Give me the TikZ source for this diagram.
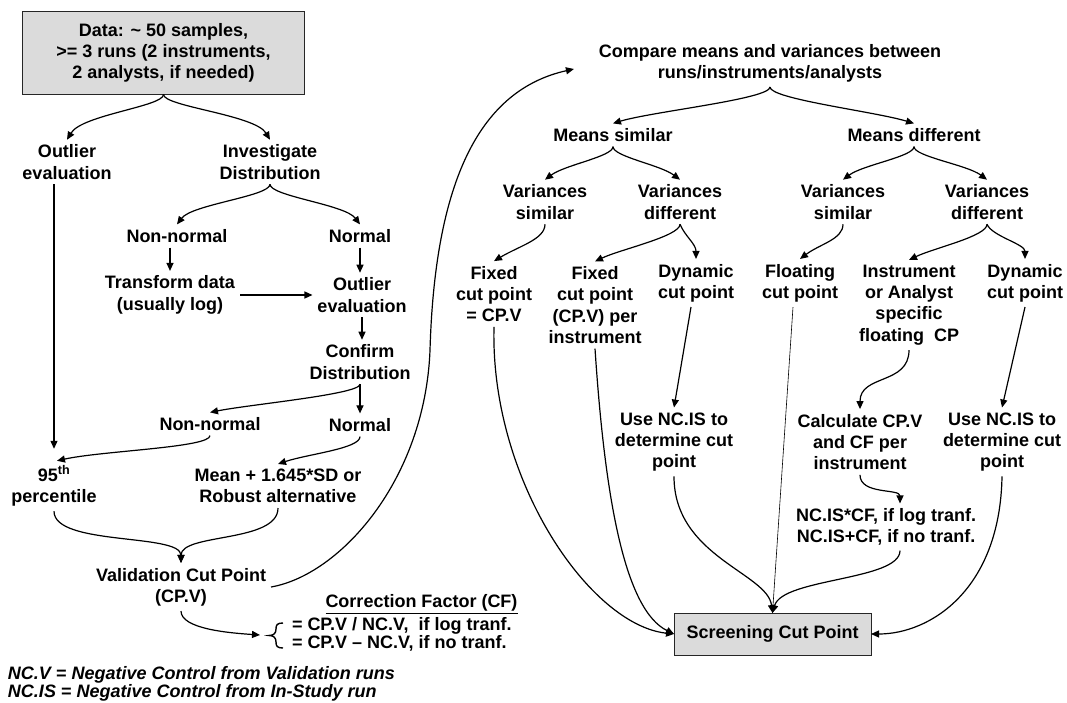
\documentclass[tikz,border=0pt]{standalone}
\usepackage{fontspec}
\setmainfont{Liberation Sans}
\usetikzlibrary{arrows.meta}
\begin{document}
\begin{tikzpicture}[x=1pt,y=-1pt,
  txt/.style={align=center, inner sep=0pt, outer sep=5pt, font=\fontsize{18}{21.3}\selectfont\bfseries},
  box/.style={draw=black!85, fill=black!14, line width=1pt, inner sep=0pt, outer sep=0pt, align=center, font=\fontsize{18}{21.3}\selectfont\bfseries},
  con/.style={line width=1.2pt, -{Triangle[length=8pt,width=7pt]}},
  thinline/.style={line width=0.6pt}]
\useasboundingbox (0,0) rectangle (1067,703);
\fill[white] (0,0) rectangle (1067,703);

% ---------- left part ----------
\node[box, minimum width=282, minimum height=83] (data) at (163.5,53) {Data: \textasciitilde{} 50 samples,\\>= 3 runs (2 instruments,\\2 analysts, if needed)};
\node[txt] (oe1) at (67,162) {Outlier\\evaluation};
\node[txt] (inv) at (270,162) {Investigate\\Distribution};
\node[txt] (nn1) at (177,236) {Non-normal};
\node[txt] (n1) at (360,236) {Normal};
\node[txt] (tr) at (170,295) {Transform data\\(usually log)};
\node[txt] (oe2) at (362,295) {Outlier\\evaluation};
\node[txt] (conf) at (360,362) {Confirm\\Distribution};
\node[txt] (nn2) at (210,424) {Non-normal};
\node[txt] (n2) at (360,425) {Normal};
\node[txt] (p95) at (54,486) {95\textsuperscript{th}\\percentile};
\node[txt] (mean) at (278,486) {Mean + 1.645*SD or\\Robust alternative};
\node[txt] (vcp) at (181,587) {Validation Cut Point\\(CP.V)};
\node[txt, anchor=center] (cfh) at (421.5,604) {\underline{Correction Factor (CF)}};
\node[txt, anchor=west, align=left, outer sep=0pt, font=\fontsize{18}{18}\selectfont\bfseries] (cf) at (292,634) {= CP.V / NC.V,\ \ if log tranf.\\= CP.V – NC.V, if no tranf.};
\coordinate (cfb) at (260,635);
\node[txt, anchor=west, align=left, outer sep=0pt, font=\fontsize{18}{18}\selectfont\bfseries\itshape] (foot) at (8,684) {NC.V = Negative Control from Validation runs\\NC.IS = Negative Control from In-Study run};

% ---------- right part ----------
\node[txt] (cmp) at (770,63) {Compare means and variances between\\runs/instruments/analysts};
\coordinate (cmptip) at ([xshift=-20pt,yshift=-6pt]cmp.west);
\node[txt] (ms) at (613,135) {Means similar};
\node[txt] (md) at (914,135) {Means different};
\node[txt] (vs1) at (545,202) {Variances\\similar};
\node[txt] (vd1) at (680,202) {Variances\\different};
\node[txt] (vs2) at (843,202) {Variances\\similar};
\node[txt] (vd2) at (987,202) {Variances\\different};
\node[txt] (fix1) at (494,294) {Fixed\\cut point\\= CP.V};
\node[txt] (fix2) at (595,305) {Fixed\\cut point\\(CP.V) per\\instrument};
\node[txt] (dyn1) at (696,283) {Dynamic\\cut point};
\node[txt] (flo) at (800,283) {Floating\\cut point};
\node[txt] (ins) at (909,305) {Instrument\\or Analyst\\specific\\floating\ \ CP};
\node[txt] (dyn2) at (1025,283) {Dynamic\\cut point};
\node[txt] (use1) at (674,442) {Use NC.IS to\\determine cut\\point};
\node[txt] (calc) at (860,442) {Calculate CP.V\\and CF per\\instrument};
\node[txt] (use2) at (1002,442) {Use NC.IS to\\determine cut\\point};
\node[txt] (ncis) at (886,527) {NC.IS*CF, if log tranf.\\NC.IS+CF, if no tranf.};
\node[box, minimum width=197, minimum height=42] (scp) at (772.5,634) {Screening Cut Point};

% ---------- connectors, left ----------
\draw[con] (data.south) .. controls +(0,12) and +(15,-25) .. (oe1.north);
\draw[con] (data.south) .. controls +(0,12) and +(-15,-25) .. (inv.north);
\draw[con] (inv.south) .. controls +(0,12) and +(15,-20) .. (nn1.north);
\draw[con] (inv.south) .. controls +(0,12) and +(-15,-20) .. (n1.north);
\draw[con] (tr.north |- nn1.south) -- (tr.north);
\draw[con] (tr.east) -- (tr.east -| oe2.west);
\draw[con] (n1.south) -- (n1.south |- oe2.north);
\draw[con] (oe2.south) -- (oe2.south |- conf.north);
\draw[con] (conf.south) .. controls +(0,10) and +(40,-8) .. (nn2.north);
\draw[con] (conf.south) -- (conf.south |- n2.north);
\draw[con] (nn2.south) .. controls +(0,12) and +(45,-10) .. ([xshift=3pt]p95.north);
\draw[con] (n2.south) .. controls +(0,12) and +(30,-10) .. (mean.north);
\draw[con, shorten >=12pt] (p95.north |- oe1.south) -- (p95.north);
\draw[con] (p95.south) .. controls +(0,35) and +(0,-30) .. (vcp.north);
\draw[con] (mean.south) .. controls +(0,35) and +(0,-30) .. (vcp.north);
\draw[con] (vcp.east) .. controls (340,575) and (425,480) .. (430,350) .. controls (435,180) and (480,90) .. (cmptip);
\draw[con] (vcp.south) .. controls +(0,18) and +(-30,-2) .. (cfb);
\draw[line width=1.4pt] (283,623) .. controls (277,623) and (276,625) .. (276,629)
  .. controls (276,633) and (274,635.5) .. (269,635.5)
  .. controls (274,635.5) and (276,638) .. (276,642)
  .. controls (276,646) and (277,648) .. (283,648);

% ---------- connectors, right ----------
\draw[con] (cmp.south) .. controls +(0,12) and +(40,-12) .. (ms.north);
\draw[con] (cmp.south) .. controls +(0,12) and +(-40,-12) .. (md.north);
\draw[con] (ms.south) .. controls +(0,10) and +(20,-15) .. (vs1.north);
\draw[con] (ms.south) .. controls +(0,10) and +(-20,-15) .. (vd1.north);
\draw[con] (md.south) .. controls +(0,10) and +(20,-15) .. (vs2.north);
\draw[con] (md.south) .. controls +(0,10) and +(-20,-15) .. (vd2.north);
\draw[con] (vs1.south) .. controls +(0,15) and +(25,-15) .. (fix1.north);
\draw[con] (vd1.south) .. controls +(0,12) and +(25,-12) .. (fix2.north);
\draw[con] (vd1.south) .. controls +(5,12) and +(0,-15) .. (dyn1.north);
\draw[con] (vs2.south) .. controls +(0,15) and +(20,-15) .. (flo.north);
\draw[con] (vd2.south) .. controls +(0,12) and +(25,-12) .. (ins.north);
\draw[con] (vd2.south) .. controls +(5,12) and +(0,-15) .. (dyn2.north);
\draw[con] ([xshift=-5pt]dyn1.south) -- (use1.north);
\draw[con] (ins.south) .. controls +(0,35) and +(0,-35) .. (calc.north);
\draw[con] (dyn2.south) -- (use2.north);
\draw[con] (calc.south) .. controls +(0,20) and +(0,-15) .. ([xshift=14pt]ncis.north);
\draw[thinline] ([xshift=-7pt]flo.south) -- (scp.north);
\draw[con] ([xshift=14pt]ncis.south) .. controls +(0,30) and +(10,-35) .. (scp.north);
\draw[con] (use1.south) .. controls +(0,80) and +(-5,-40) .. (scp.north);
\draw[con] (fix1.south) .. controls (490,480) and (590,625) .. (scp.west);
\draw[con] (fix2.south) .. controls (605,500) and (625,610) .. (scp.west);
\draw[con] (use2.south) .. controls (1000,590) and (930,634) .. (scp.east);
\end{tikzpicture}
\end{document}
